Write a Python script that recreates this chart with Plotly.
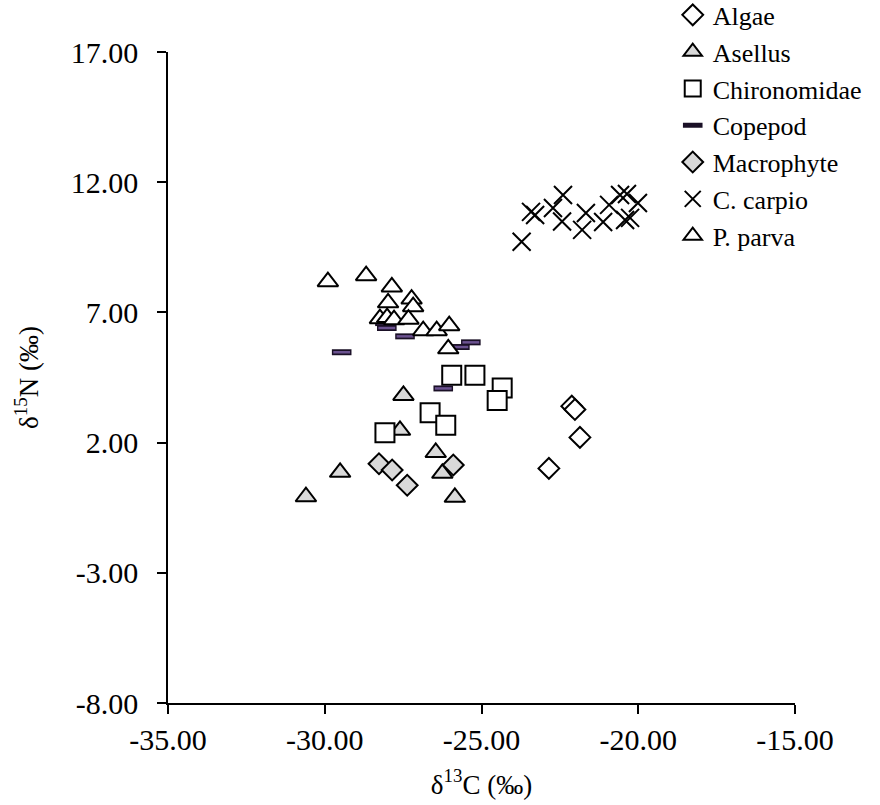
import plotly.graph_objects as go

# ---- data (d13C, d15N) ----
algae_x = [-22.12, -22.02, -21.86, -22.85]
algae_y = [3.40, 3.27, 2.20, 1.01]

asellus_x = [-27.49, -27.60, -29.51, -30.60, -26.46, -26.25, -25.85]
asellus_y = [3.81, 2.47, 0.86, -0.08, 1.62, 0.82, -0.10]

chiro_x = [-25.95, -25.21, -24.34, -24.50, -26.64, -26.14, -28.08]
chiro_y = [4.59, 4.59, 4.10, 3.62, 3.15, 2.67, 2.38]

copepod_x = [-29.46, -28.08, -28.02, -27.44, -25.69, -25.34, -26.22]
copepod_y = [5.47, 6.59, 6.40, 6.08, 5.67, 5.85, 4.08]

macro_x = [-28.27, -27.85, -27.37, -25.90]
macro_y = [1.19, 0.95, 0.36, 1.14]

carpio_x = [-23.72, -23.42, -23.29, -22.72, -22.40, -22.43, -21.67, -21.79,
            -21.12, -20.93, -20.58, -20.36, -20.01, -20.42, -20.26]
carpio_y = [9.71, 10.86, 10.74, 11.01, 11.51, 10.49, 10.82, 10.17,
            10.47, 11.13, 11.51, 11.55, 11.20, 10.55, 10.63]

parva_x = [-29.90, -28.68, -27.86, -27.98, -27.23, -27.18, -28.24, -28.01,
           -27.79, -27.33, -26.86, -26.43, -26.03, -26.06]
parva_y = [8.18, 8.41, 7.98, 7.37, 7.51, 7.22, 6.76, 6.80,
           6.72, 6.74, 6.30, 6.30, 6.49, 5.60]

x_ticks = [-35, -30, -25, -20, -15]
x_ticktext = ["-35.00", "-30.00", "-25.00", "-20.00", "-15.00"]
y_ticks = [-8, -3, 2, 7, 12, 17]
y_ticktext = ["-8.00", "-3.00", "2.00", "7.00", "12.00", "17.00"]

FONT = "Liberation Serif, Times New Roman, serif"
GRAY = "#d9d9d9"

fig = go.Figure()

fig.add_trace(go.Scatter(x=algae_x, y=algae_y, mode="markers", name="Algae",
                         marker=dict(symbol="diamond", size=16, color="white",
                                     line=dict(color="black", width=2))))
fig.add_trace(go.Scatter(x=asellus_x, y=asellus_y, mode="markers", name="Asellus",
                         marker=dict(symbol="triangle-up", size=18, color=GRAY,
                                     line=dict(color="black", width=2))))
fig.add_trace(go.Scatter(x=chiro_x, y=chiro_y, mode="markers", name="Chironomidae",
                         marker=dict(symbol="square", size=19, color="white",
                                     line=dict(color="black", width=2))))
fig.add_trace(go.Scatter(x=copepod_x, y=copepod_y, mode="markers", name="Copepod",
                         legendgroup="cop",
                         marker=dict(symbol="line-ew", size=14, color="#1a1026",
                                     line=dict(color="#1a1026", width=6))))
fig.add_trace(go.Scatter(x=copepod_x, y=copepod_y, mode="markers", name="Copepod",
                         legendgroup="cop", showlegend=False,
                         marker=dict(symbol="line-ew", size=12, color="#6b5290",
                                     line=dict(color="#6b5290", width=2.5))))
fig.add_trace(go.Scatter(x=macro_x, y=macro_y, mode="markers", name="Macrophyte",
                         marker=dict(symbol="diamond", size=16, color=GRAY,
                                     line=dict(color="black", width=2))))
fig.add_trace(go.Scatter(x=carpio_x, y=carpio_y, mode="markers", name="C. carpio",
                         marker=dict(symbol="x-thin", size=18, color="black",
                                     line=dict(color="black", width=2))))
fig.add_trace(go.Scatter(x=parva_x, y=parva_y, mode="markers", name="P. parva",
                         marker=dict(symbol="triangle-up", size=18, color="white",
                                     line=dict(color="black", width=2))))

fig.update_layout(
    width=880, height=805,
    margin=dict(l=168, r=85, t=52, b=102, autoexpand=False),
    paper_bgcolor="white", plot_bgcolor="white",
    font=dict(family=FONT, size=30, color="black"),
    showlegend=True,
    legend=dict(x=0.805, y=1.093, xanchor="left", yanchor="top",
                bgcolor="rgba(0,0,0,0)", font=dict(size=26, family=FONT),
                itemsizing="trace", tracegroupgap=0),
    xaxis=dict(range=[-35, -15], tickvals=x_ticks, ticktext=x_ticktext,
               showgrid=False, zeroline=False, showline=True, linecolor="black",
               linewidth=1.5, ticks="outside", ticklen=9, tickwidth=1.5,
               tickcolor="black", tickfont=dict(size=30, family=FONT),
               title=dict(text="δ<sup>13</sup>C (‰)", font=dict(size=27, family=FONT),
                          standoff=20)),
    yaxis=dict(range=[-8, 17], tickvals=y_ticks, ticktext=y_ticktext,
               showgrid=False, zeroline=False, showline=True, linecolor="black",
               linewidth=1.5, ticks="outside", ticklen=9, tickwidth=1.5,
               tickcolor="black", tickfont=dict(size=30, family=FONT),
               ticklabelstandoff=13,
               title=dict(text="δ<sup>15</sup>N (‰)", font=dict(size=27, family=FONT),
                          standoff=24)),
)

fig.write_html("out.html")
